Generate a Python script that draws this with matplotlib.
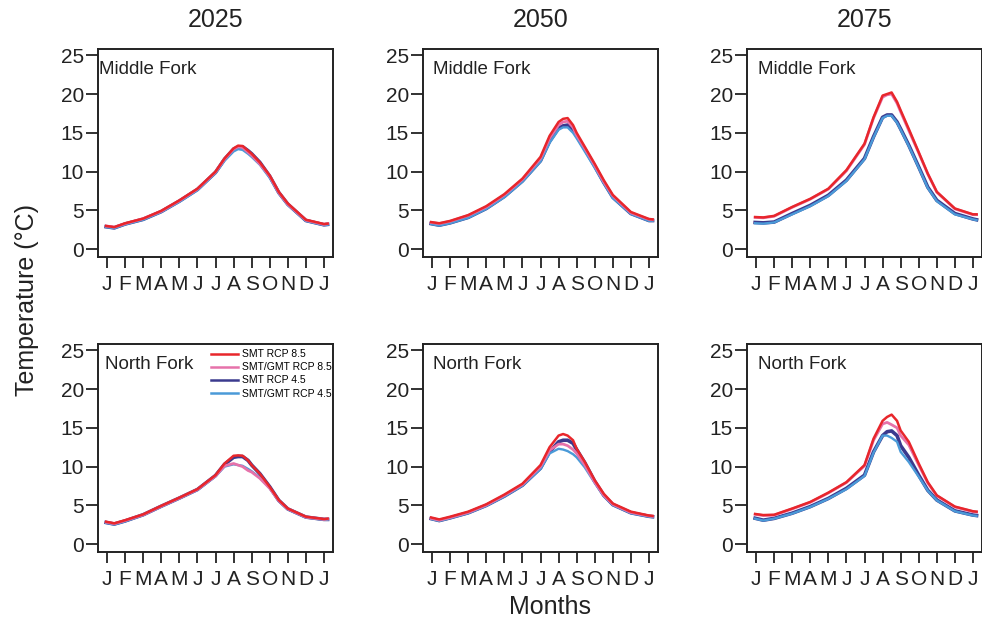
import matplotlib
matplotlib.use("Agg")
import matplotlib.pyplot as plt
from matplotlib.lines import Line2D

plt.rcParams['font.family'] = ['Liberation Sans', 'DejaVu Sans']

# x positions in months after 1 January (0 = J, 12 = next J)
months_x = [-0.05, 0.4, 1, 2, 3, 4, 5, 6, 6.5, 7, 7.25, 7.5, 7.8, 8, 8.45, 9, 9.5, 10, 11, 12, 12.2]
month_labels = ['J', 'F', 'M', 'A', 'M', 'J', 'J', 'A', 'S', 'O', 'N', 'D', 'J']
years = ['2025', '2050', '2075']
rivers = ['Middle Fork', 'North Fork']
series_names = ['SMT RCP 8.5', 'SMT/GMT RCP 8.5', 'SMT RCP 4.5', 'SMT/GMT RCP 4.5']
series_colors = ['#e8262b', '#e672aa', '#3b3a8e', '#4a9ad8']

# Middle Fork
mf_2025_smt85 = [3.0, 2.85, 3.35, 3.95, 4.95, 6.3, 7.8, 10.0, 11.7, 13.0, 13.35, 13.3, 12.7, 12.3, 11.2, 9.5, 7.4, 5.9, 3.8, 3.25, 3.3]
mf_2025_gmt85 = [3.0, 2.85, 3.3, 3.95, 4.9, 6.25, 7.75, 9.95, 11.6, 12.9, 13.2, 13.1, 12.5, 12.1, 11.0, 9.4, 7.3, 5.8, 3.75, 3.2, 3.3]
mf_2025_smt45 = [2.9, 2.75, 3.25, 3.85, 4.85, 6.2, 7.7, 9.9, 11.6, 12.9, 13.15, 13.2, 12.7, 12.3, 11.2, 9.4, 7.3, 5.8, 3.7, 3.15, 3.2]
mf_2025_gmt45 = [2.85, 2.7, 3.2, 3.8, 4.8, 6.1, 7.6, 9.8, 11.4, 12.6, 12.9, 12.8, 12.3, 11.9, 10.9, 9.2, 7.2, 5.7, 3.65, 3.1, 3.15]

mf_2050_smt85 = [3.5, 3.35, 3.65, 4.4, 5.55, 7.1, 9.1, 11.9, 14.6, 16.4, 16.8, 16.9, 16.0, 15.0, 13.2, 11.0, 8.9, 7.0, 4.8, 3.9, 3.85]
mf_2050_gmt85 = [3.45, 3.3, 3.6, 4.35, 5.45, 7.0, 9.0, 11.7, 14.3, 16.0, 16.4, 16.5, 15.7, 14.7, 13.0, 10.8, 8.7, 6.9, 4.7, 3.85, 3.8]
mf_2050_smt45 = [3.3, 3.1, 3.4, 4.1, 5.25, 6.8, 8.8, 11.4, 13.9, 15.6, 15.9, 16.0, 15.4, 14.6, 12.9, 10.7, 8.6, 6.7, 4.6, 3.7, 3.7]
mf_2050_gmt45 = [3.25, 3.05, 3.35, 4.05, 5.2, 6.7, 8.7, 11.3, 13.7, 15.4, 15.7, 15.7, 15.0, 14.3, 12.6, 10.5, 8.5, 6.6, 4.55, 3.65, 3.65]

mf_2075_smt85 = [4.15, 4.1, 4.3, 5.45, 6.5, 7.8, 10.2, 13.6, 17.0, 19.8, 20.0, 20.2, 19.0, 17.9, 15.5, 12.5, 9.75, 7.4, 5.25, 4.5, 4.5]
mf_2075_gmt85 = [4.1, 4.05, 4.25, 5.4, 6.45, 7.75, 10.1, 13.5, 16.9, 19.6, 19.9, 20.0, 18.8, 17.7, 15.3, 12.4, 9.7, 7.35, 5.2, 4.45, 4.45]
mf_2075_smt45 = [3.45, 3.4, 3.5, 4.6, 5.65, 6.95, 8.9, 11.7, 14.5, 17.0, 17.3, 17.3, 16.4, 15.5, 13.4, 10.6, 8.0, 6.3, 4.6, 3.9, 3.8]
mf_2075_gmt45 = [3.35, 3.3, 3.45, 4.5, 5.55, 6.85, 8.8, 11.6, 14.4, 16.9, 17.2, 17.2, 16.3, 15.4, 13.3, 10.5, 7.9, 6.2, 4.5, 3.85, 3.75]

# North Fork
nf_2025_smt85 = [2.9, 2.7, 3.1, 3.85, 4.95, 6.0, 7.1, 8.9, 10.4, 11.4, 11.45, 11.4, 10.8, 10.2, 9.1, 7.4, 5.7, 4.6, 3.55, 3.25, 3.3]
nf_2025_gmt85 = [2.85, 2.65, 3.05, 3.8, 4.9, 5.95, 7.05, 8.8, 10.1, 10.4, 10.2, 10.0, 9.5, 9.3, 8.5, 7.2, 5.6, 4.55, 3.5, 3.2, 3.25]
nf_2025_smt45 = [2.8, 2.6, 3.0, 3.8, 4.9, 5.95, 7.05, 8.85, 10.3, 11.2, 11.3, 11.3, 10.8, 10.2, 9.1, 7.4, 5.65, 4.55, 3.5, 3.2, 3.2]
nf_2025_gmt45 = [2.75, 2.55, 2.95, 3.75, 4.85, 5.9, 7.0, 8.75, 10.0, 10.3, 10.2, 10.1, 9.7, 9.4, 8.6, 7.2, 5.55, 4.5, 3.45, 3.15, 3.15]

nf_2050_smt85 = [3.45, 3.2, 3.55, 4.2, 5.15, 6.4, 7.8, 10.2, 12.5, 14.0, 14.2, 14.0, 13.4, 12.3, 10.6, 8.25, 6.5, 5.25, 4.2, 3.7, 3.65]
nf_2050_gmt85 = [3.35, 3.1, 3.45, 4.1, 5.05, 6.3, 7.7, 10.0, 12.1, 12.9, 12.9, 12.7, 12.2, 11.7, 10.2, 8.0, 6.3, 5.15, 4.1, 3.65, 3.6]
nf_2050_smt45 = [3.3, 3.05, 3.4, 4.05, 5.0, 6.2, 7.6, 9.8, 11.9, 13.2, 13.4, 13.4, 13.0, 12.2, 10.5, 8.1, 6.3, 5.1, 4.05, 3.6, 3.55]
nf_2050_gmt45 = [3.25, 3.0, 3.35, 4.0, 4.95, 6.15, 7.55, 9.7, 11.7, 12.3, 12.2, 12.0, 11.6, 11.2, 9.9, 7.9, 6.2, 5.05, 4.0, 3.55, 3.5]

nf_2075_smt85 = [3.9, 3.76, 3.8, 4.6, 5.45, 6.65, 8.0, 10.2, 13.6, 15.9, 16.4, 16.7, 15.9, 14.65, 13.2, 10.4, 8.0, 6.3, 4.85, 4.25, 4.2]
nf_2075_gmt85 = [3.85, 3.7, 3.75, 4.55, 5.4, 6.6, 7.95, 10.1, 13.4, 15.5, 15.7, 15.4, 15.0, 14.0, 12.8, 10.2, 7.9, 6.25, 4.8, 4.2, 4.15]
nf_2075_smt45 = [3.35, 3.1, 3.33, 4.0, 4.85, 5.9, 7.2, 8.9, 11.9, 14.0, 14.5, 14.6, 14.0, 12.7, 11.2, 8.9, 6.95, 5.7, 4.3, 3.76, 3.7]
nf_2075_gmt45 = [3.3, 3.05, 3.3, 3.95, 4.8, 5.85, 7.1, 8.8, 11.8, 14.0, 14.0, 13.7, 13.2, 11.9, 10.6, 8.7, 6.9, 5.65, 4.25, 3.7, 3.65]

panels = [
    [[mf_2025_smt85, mf_2025_gmt85, mf_2025_smt45, mf_2025_gmt45],
     [mf_2050_smt85, mf_2050_gmt85, mf_2050_smt45, mf_2050_gmt45],
     [mf_2075_smt85, mf_2075_gmt85, mf_2075_smt45, mf_2075_gmt45]],
    [[nf_2025_smt85, nf_2025_gmt85, nf_2025_smt45, nf_2025_gmt45],
     [nf_2050_smt85, nf_2050_gmt85, nf_2050_smt45, nf_2050_gmt45],
     [nf_2075_smt85, nf_2075_gmt85, nf_2075_smt45, nf_2075_gmt45]],
]

W, H = 982, 624
fig = plt.figure(figsize=(W / 100, H / 100), dpi=100)
txt = '#222222'

col_left = [98, 423, 747]
row_top = [49, 344]
box_w, box_h = 235, 208
label_x = [[99, 433, 758], [105, 433, 758]]

# drawing order and widths: dark blue under light blue, pink under red
draw_order = [2, 3, 1, 0]
widths = {0: 1.8, 1: 2.0, 2: 2.6, 3: 1.7}

for r in range(2):
    for c in range(3):
        ax = fig.add_axes([col_left[c] / W, (H - row_top[r] - box_h) / H, box_w / W, box_h / H])
        for k in draw_order:
            ax.plot(months_x, panels[r][c][k], color=series_colors[k], lw=widths[k])
        ax.set_xlim(-0.5, 12.5)
        ax.set_ylim(-1, 25.8)
        ax.set_xticks(range(13))
        ax.set_xticklabels(month_labels)
        ax.set_yticks([0, 5, 10, 15, 20, 25])
        ax.tick_params(axis='x', length=8, width=1.3, pad=5, labelsize=15, colors=txt)
        ax.tick_params(axis='y', length=8.6, width=1.3, pad=1.5, labelsize=15, colors=txt)
        for s in ax.spines.values():
            s.set_linewidth(1.4)
            s.set_color(txt)
        ax.text((label_x[r][c] - col_left[c]) / box_w, 0.9, rivers[r],
                transform=ax.transAxes, fontsize=13.5, color=txt, va='center', ha='left')
        if r == 0:
            ax.set_title(years[c], fontsize=18, color=txt, pad=16)
        if r == 1 and c == 0:
            handles = [Line2D([], [], color=series_colors[k], lw=1.8) for k in range(4)]
            ax.legend(handles, series_names, loc='upper left',
                      bbox_to_anchor=(0.48, 0.975), frameon=False, fontsize=7.5,
                      handlelength=2.6, handletextpad=0.4, labelspacing=0.3,
                      borderpad=0, borderaxespad=0)

fig.text(27 / W, 1 - 300 / H, 'Temperature (\u00b0C)', rotation=90, fontsize=18,
         color=txt, ha='center', va='center')
fig.text(550 / W, 1 - 607 / H, 'Months', fontsize=18, color=txt, ha='center', va='center')

fig.savefig('out.png', dpi=100)
